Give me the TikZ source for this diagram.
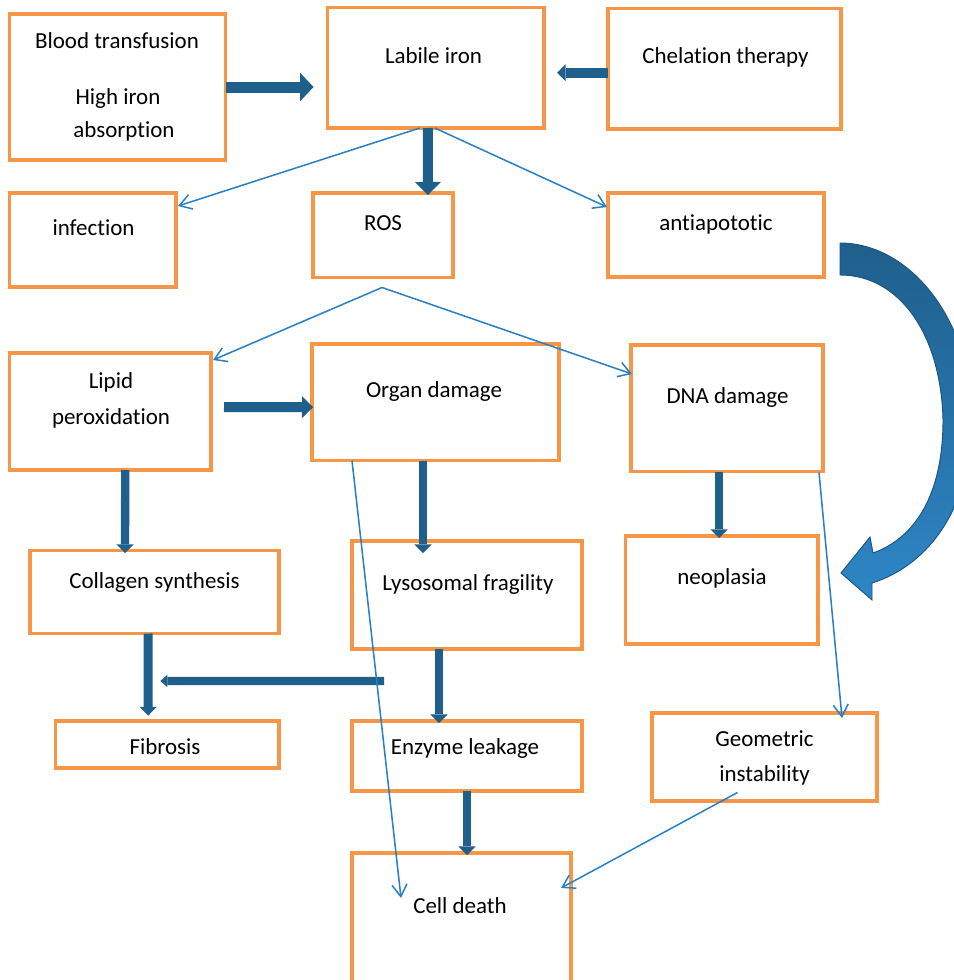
\documentclass[tikz,border=0pt]{standalone}
\usepackage{fontspec}
\setmainfont{Carlito}[Ligatures=NoCommon]
\usepackage{tikz}
\usetikzlibrary{arrows.meta, positioning, calc, fit}
\definecolor{boxorange}{RGB}{247,150,70}
\definecolor{fatblue}{RGB}{31,95,140}
\definecolor{thinblue}{RGB}{42,128,196}
\definecolor{curvelight}{RGB}{46,134,198}
\tikzset{
  box/.style={rectangle, draw=boxorange, line width=3.4pt, inner sep=0pt, outer sep=0pt},
  txt/.style={anchor=base, inner sep=0pt, font=\fontsize{19.6}{24}\selectfont},
  thinarrow/.style={-{Straight Barb[length=0.36cm, width=0.45cm]}, line width=1.3pt, color=thinblue},
  fatarrow/.style={-{Triangle[width=0.52cm, length=0.26cm, line width=0pt]}, line width=0.25cm, color=fatblue},
  bigarrow/.style={-{Triangle[width=0.85cm, length=0.4cm, line width=0pt]}, line width=0.33cm, color=fatblue}
}

\begin{document}
\begin{tikzpicture}[x=0.03cm, y=-0.03cm]
  \useasboundingbox (0,0) rectangle (954,980);
  \clip (0,0) rectangle (954,980);

  % Boxes
  \node[box, fit={(9.5,14) (225.5,160)}] (blood) {};
  \node[box, fit={(327.5,7.5) (544,128)}] (labile) {};
  \node[box, fit={(608,8.5) (841,129)}] (chel) {};
  \node[box, fit={(9.5,193) (176,287)}] (infect) {};
  \node[box, fit={(313,193) (453,277.5)}] (ros) {};
  \node[box, fit={(608,193) (824,277)}] (anti) {};
  \node[box, fit={(9.5,353) (211,470)}] (lipid) {};
  \node[box, fit={(312,344) (559,460.5)}] (organ) {};
  \node[box, fit={(631,345) (823,471.5)}] (dna) {};
  \node[box, fit={(30,550.5) (279,633.5)}] (collagen) {};
  \node[box, fit={(352,541) (582,648.5)}] (lyso) {};
  \node[box, fit={(625.5,536) (818,644)}] (neo) {};
  \node[box, fit={(55.5,720.5) (279,768)}] (fib) {};
  \node[box, fit={(352,720.5) (582,791)}] (enzyme) {};
  \node[box, fit={(652,713) (877,800.5)}] (geo) {};
  \node[box, fit={(352,853) (571,1000)}] (cell) {};

  % Texts
  \node[txt] (bloodA) at (117,48) {Blood transfusion};
  \node[txt] (bloodB) at (118,104) {High iron};
  \node[txt] (bloodC) at (124,137) {absorption};
  \node[txt] (labileA) at (433.5,63) {Labile iron};
  \node[txt] (chelA) at (725.5,63) {Chelation therapy};
  \node[txt] (infectA) at (93.5,235) {infection};
  \node[txt] (rosA) at (383,230) {ROS};
  \node[txt] (antiA) at (716,230) {antiapototic};
  \node[txt] (lipidA) at (111,388) {Lipid};
  \node[txt] (lipidB) at (111,424) {peroxidation};
  \node[txt] (organA) at (434,397) {Organ damage};
  \node[txt] (dnaA) at (727.5,403) {DNA damage};
  \node[txt] (collagenA) at (154.5,588) {Collagen synthesis};
  \node[txt] (lysoA) at (468,590) {Lysosomal fragility};
  \node[txt] (neoA) at (722,584) {neoplasia};
  \node[txt] (fibA) at (165,754) {Fibrosis};
  \node[txt] (enzymeA) at (465,754) {Enzyme leakage};
  \node[txt] (geoA) at (764.5,746) {Geometric};
  \node[txt] (geoB) at (764.5,781) {instability};
  \node[txt] (cellA) at (460,913) {Cell death};

  % Free ends
  \coordinate (rospeak) at ($(ros.south)+(-1,10)$);
  \coordinate (lysotail) at ($(lyso.south west)+(32,32.5)$);
  \coordinate (fibjoin) at ($(fib.north)+(-7,-39.5)$);

  % Block arrows
  \draw[bigarrow, shorten >=0.42cm] (blood.east) -- (blood.east -| labile.west);
  \draw[fatarrow, line width=0.3cm] ($(chel.west)+(0,4)$) -- ($(labile.east)+(13,5)$);
  \draw[bigarrow, line width=0.3cm, -{Triangle[width=0.78cm, length=0.39cm, line width=0pt]}] ($(labile.south)+(-8,0)$) -- ($(ros.north)+(45,2)$);
  \draw[bigarrow, line width=0.3cm, -{Triangle[width=0.66cm, length=0.33cm, line width=0pt]}] ($(lipid.east)+(13,-4.5)$) -- ($(organ.west)+(1,5)$);
  \draw[fatarrow] ($(lipid.south)+(15,0)$) -- ($(collagen.north)+(-29.5,2.5)$);
  \draw[fatarrow] ($(organ.south)+(-12.5,0)$) -- ($(lyso.north)+(-44,12)$);
  \draw[fatarrow] ($(dna.south)+(-8,0)$) -- ($(neo.north)+(-2.75,2)$);
  \draw[fatarrow, line width=0.27cm] ($(collagen.south)+(-6.5,0)$) -- ($(fib.north)+(-19,-5)$);
  \draw[fatarrow, -{Triangle[width=0.36cm, length=0.21cm, line width=0pt]}] (lysotail) -- (fibjoin);
  \draw[fatarrow, line width=0.22cm] ($(lyso.south)+(-28,0)$) -- ($(enzyme.north)+(-28,2.5)$);
  \draw[fatarrow] (enzyme.south) -- ($(enzyme.south |- cell.north)+(0,2)$);

  % Thin arrows
  \draw[thinarrow] ($(labile.south)+(-16,0)$) -- ($(infect.north east)+(2,13)$);
  \draw[thinarrow] ($(labile.south)+(-1,0)$) -- ($(anti.north west)+(-1,14)$);
  \draw[thinarrow] (rospeak) -- ($(lipid.north east)+(2,7)$);
  \draw[thinarrow] (rospeak) -- ($(dna.north west)+(1,29)$);
  \draw[thinarrow] ($(organ.south west)+(40,0)$) -- ($(cell.north west)+(49,45)$);
  \draw[thinarrow] ($(dna.south east)+(-4,1)$) -- ($(geo.north east)+(-35,5)$);
  \draw[thinarrow] ($(geo.south)+(-27,-8)$) -- ($(cell.north east)+(-10,35)$);

  % Curved arrow
  \shadedraw[top color=fatblue, bottom color=curvelight, draw=fatblue!90!black, line width=0.8pt]
    (840,243) .. controls (910,243) and (972,320) .. (972,420)
    .. controls (972,505) and (930,565) .. (872,583)
    -- (872,600) -- (841,573) -- (870,537) -- (873,553)
    .. controls (915,538) and (943,495) .. (943,420)
    .. controls (941,335) and (900,275) .. (840,275) -- cycle;
\end{tikzpicture}
\end{document}
